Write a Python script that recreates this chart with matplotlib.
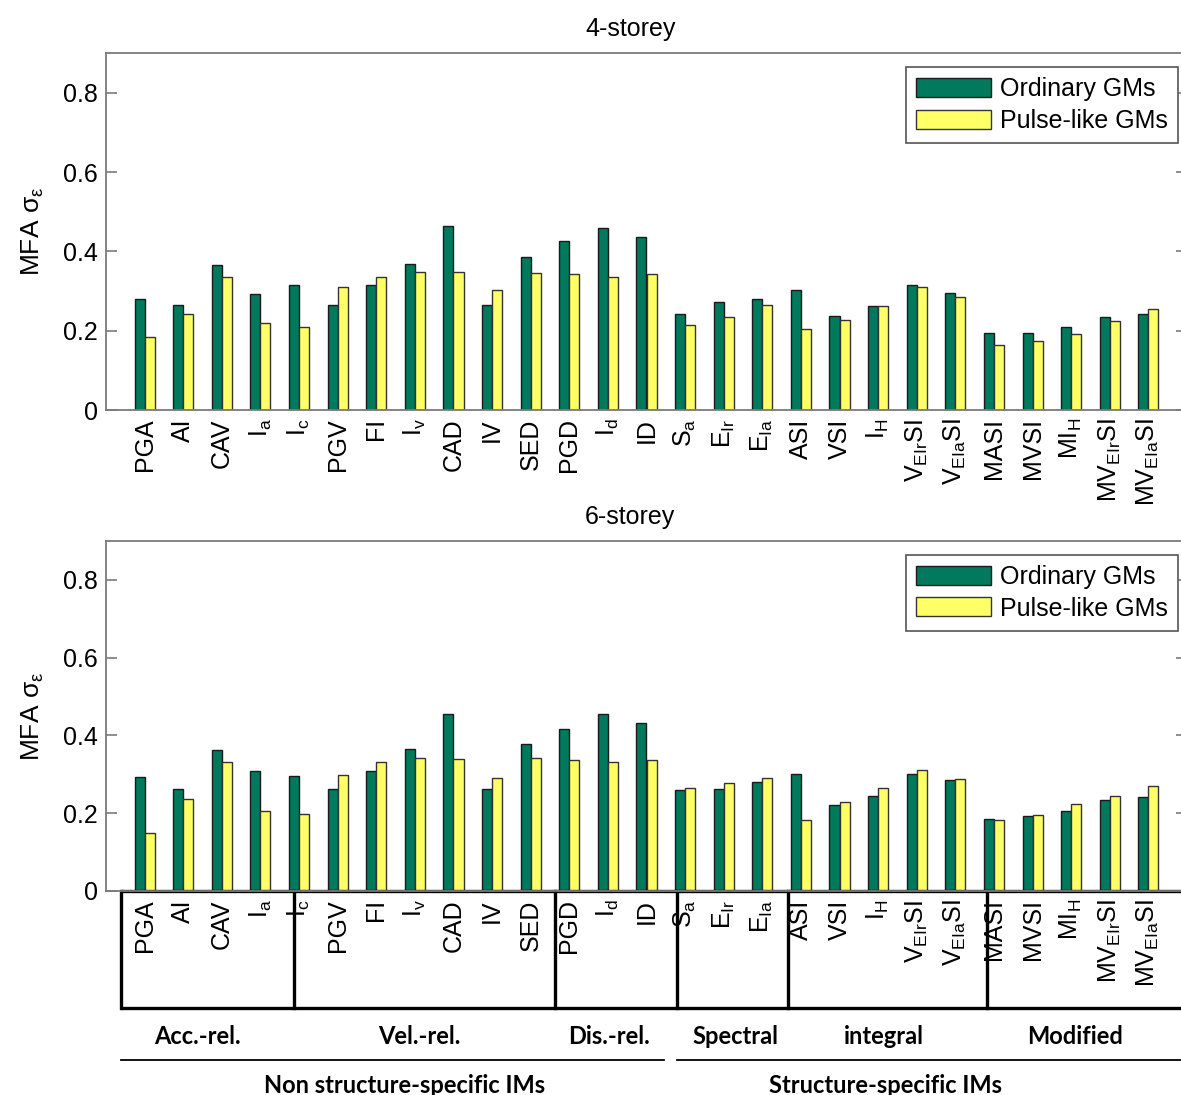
import numpy as np
import matplotlib
matplotlib.use("Agg")
import matplotlib.pyplot as plt
from matplotlib.transforms import blended_transform_factory

plt.rcParams['font.family'] = ['Liberation Sans', 'DejaVu Sans']
plt.rcParams['mathtext.default'] = 'regular'

categories = ['PGA', 'AI', 'CAV', '$I_a$', '$I_c$', 'PGV', 'FI', '$I_v$', 'CAD', 'IV', 'SED',
              'PGD', '$I_d$', 'ID', '$S_a$', '$E_{Ir}$', '$E_{Ia}$', 'ASI', 'VSI', '$I_H$',
              '$V_{EIr}SI$', '$V_{EIa}SI$', 'MASI', 'MVSI', '$MI_H$', '$MV_{EIr}SI$', '$MV_{EIa}SI$']

ordinary_4 = [0.279, 0.264, 0.366, 0.292, 0.314, 0.264, 0.314, 0.369, 0.464, 0.264, 0.386,
              0.425, 0.459, 0.437, 0.243, 0.273, 0.279, 0.303, 0.236, 0.263, 0.314, 0.295,
              0.195, 0.195, 0.208, 0.234, 0.241]
pulse_4 = [0.185, 0.243, 0.335, 0.219, 0.210, 0.310, 0.336, 0.347, 0.347, 0.303, 0.346,
           0.343, 0.336, 0.343, 0.214, 0.234, 0.265, 0.204, 0.227, 0.263, 0.310, 0.284,
           0.165, 0.174, 0.192, 0.225, 0.255]
ordinary_6 = [0.292, 0.263, 0.362, 0.308, 0.296, 0.263, 0.308, 0.364, 0.454, 0.263, 0.379,
              0.417, 0.454, 0.432, 0.260, 0.263, 0.280, 0.300, 0.221, 0.245, 0.300, 0.285,
              0.186, 0.193, 0.207, 0.233, 0.242]
pulse_6 = [0.150, 0.237, 0.332, 0.207, 0.197, 0.298, 0.332, 0.343, 0.340, 0.290, 0.343,
           0.337, 0.331, 0.337, 0.266, 0.277, 0.291, 0.182, 0.229, 0.266, 0.311, 0.287,
           0.182, 0.195, 0.225, 0.245, 0.269]

series_names = ['Ordinary GMs', 'Pulse-like GMs']
titles = ['4-storey', '6-storey']
yticks = [0, 0.2, 0.4, 0.6, 0.8]
ytick_labels = ['0', '0.2', '0.4', '0.6', '0.8']

# group annotation (bottom panel)
box_edges = [0.39, 4.88, 11.62, 14.78, 17.67, 22.83, 28.5]
group_names = ['Acc.-rel.', 'Vel.-rel.', 'Dis.-rel.', 'Spectral', 'integral', 'Modified']
group_centers = [2.36, 8.12, 13.03, 16.30, 20.15, 25.11]
super_names = ['Non structure-specific IMs', 'Structure-specific IMs']
super_spans = [(0.39, 14.46), (14.80, 28.5)]
super_centers = [7.74, 20.2]

GREEN = '#00795C'
YELLOW = '#FFFF66'
GRAY = '#7a7a7a'
FS = 18

W, H = 1181, 1095
fig = plt.figure(figsize=(W / 100, H / 100), dpi=100)
ax1 = fig.add_axes([106 / W, 1 - 410 / H, 1081 / W, 357 / H])
ax2 = fig.add_axes([106 / W, 1 - 891 / H, 1081 / W, 350 / H])

x = np.arange(1, len(categories) + 1)
bw = 0.26

for ax, ordv, pulv, title in [(ax1, ordinary_4, pulse_4, titles[0]),
                              (ax2, ordinary_6, pulse_6, titles[1])]:
    ax.bar(x - bw / 2, ordv, bw, color=GREEN, edgecolor='#1a1a1a', linewidth=1.0,
           label=series_names[0])
    ax.bar(x + bw / 2, pulv, bw, color=YELLOW, edgecolor='#333333', linewidth=1.0,
           label=series_names[1])
    ax.set_xlim(0, 28)
    ax.set_ylim(0, 0.9)
    ax.set_yticks(yticks)
    ax.set_yticklabels(ytick_labels)
    ax.set_xticks(x)
    ax.set_xticklabels(categories, rotation=90, fontsize=FS)
    ax.tick_params(axis='y', direction='in', length=8, width=1.2, color=GRAY,
                   right=True, labelsize=FS, pad=6)
    ax.tick_params(axis='x', length=0, pad=6)
    for sp in ax.spines.values():
        sp.set_color(GRAY)
        sp.set_linewidth(1.3)
    t = ax.set_title(title, fontsize=FS, pad=12)
    t.set_x(0.485)
    ax.set_ylabel('MFA $σ_ε$', fontsize=FS + 1, labelpad=12)
    leg = ax.legend(loc='upper right', bbox_to_anchor=(0.992, 0.96), borderaxespad=0,
                    fontsize=FS, handlelength=3.0, handleheight=0.8, handletextpad=0.36,
                    labelspacing=0.3, borderpad=0.4, fancybox=False, framealpha=1)
    leg.get_frame().set_edgecolor('#555555')
    leg.get_frame().set_linewidth(1.2)

# annotation box under bottom panel
tr = blended_transform_factory(ax2.transData, ax2.transAxes)
box_bottom = -0.334
lw = 2.4
ax2.plot([box_edges[0], box_edges[-1]], [0, 0], color='black', lw=lw, transform=tr,
         clip_on=False, solid_capstyle='butt')
ax2.plot([box_edges[0], box_edges[-1]], [box_bottom, box_bottom], color='black', lw=lw,
         transform=tr, clip_on=False, solid_capstyle='butt')
for xe in box_edges[:-1]:
    ax2.plot([xe, xe], [0, box_bottom], color='black', lw=lw, transform=tr, clip_on=False)

for name, cx in zip(group_names, group_centers):
    ax2.text(cx, -0.417, name, transform=tr, ha='center', va='center',
             fontsize=17, fontweight='bold', family=['Lato', 'DejaVu Sans'])

for (x0, x1_), name, cx in zip(super_spans, super_names, super_centers):
    ax2.plot([x0, x1_], [-0.483, -0.483], color='black', lw=1.3, transform=tr, clip_on=False)
    ax2.text(cx, -0.556, name, transform=tr, ha='center', va='center',
             fontsize=17, fontweight='bold', family=['Lato', 'DejaVu Sans'])

fig.savefig('out.png', dpi=100)
